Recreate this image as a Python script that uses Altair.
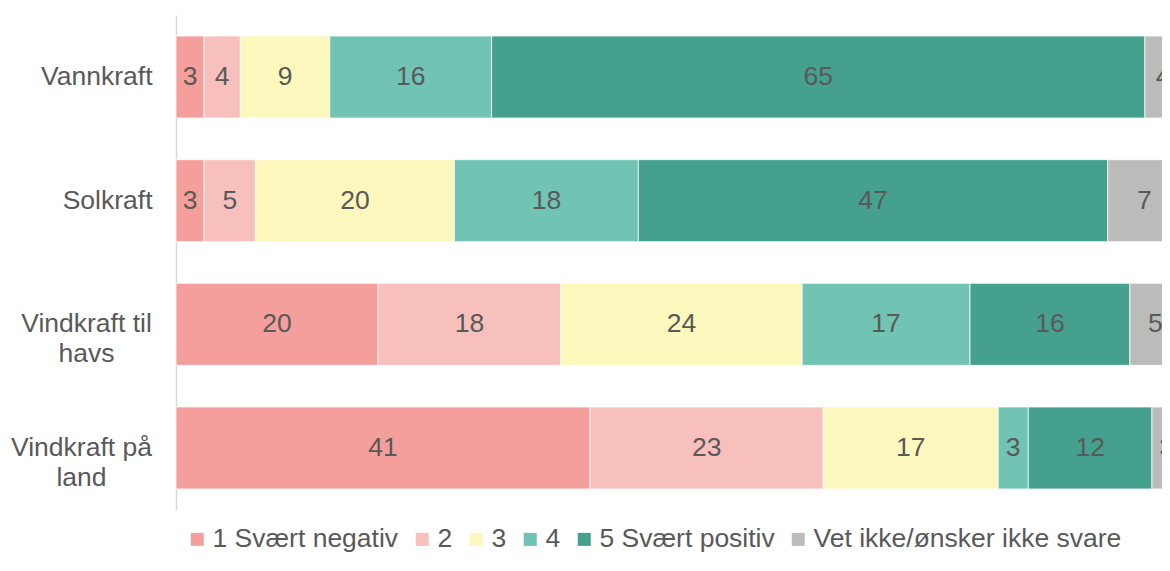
import altair as alt
import pandas as pd

categories = ["Vannkraft", "Solkraft", "Vindkraft til havs", "Vindkraft på land"]
responses = ["1 Svært negativ", "2", "3", "4", "5 Svært positiv", "Vet ikke/ønsker ikke svare"]
colors = ["#F59F9C", "#F8C0BD", "#FCF8BD", "#71C3B4", "#45A18E", "#BBBCBA"]

vannkraft = [2.8, 3.6, 8.9, 16.1, 65.0, 3.6]
solkraft = [2.8, 5.1, 19.8, 18.3, 46.7, 7.3]
vind_havs = [20.1, 18.2, 24.0, 16.7, 15.9, 5.1]
vind_land = [41.2, 23.2, 17.4, 3.0, 12.3, 2.9]

rows = []
for cat, vals in zip(categories, [vannkraft, solkraft, vind_havs, vind_land]):
    for i, (r, v) in enumerate(zip(responses, vals)):
        rows.append({"cat": cat, "resp": r, "order": i, "value": v})
df = pd.DataFrame(rows)

FONT = "Liberation Sans"
TXT = "#595959"
FS = 26.5

xscale = alt.Scale(domain=[0, 98.1], nice=False, zero=True)
yenc = alt.Y(
    "cat:N",
    sort=categories,
    scale=alt.Scale(paddingInner=0.337, paddingOuter=0.17),
    axis=alt.Axis(
        title=None,
        ticks=False,
        domain=True,
        domainColor="#D9D9D9",
        domainWidth=1.5,
        labelFont=FONT,
        labelFontSize=FS,
        labelColor=TXT,
        labelLineHeight=30,
        labelBaseline="middle",
        labelLimit=400,
        labelExpr="length(datum.label) > 12 ? [slice(datum.label, 0, lastindexof(datum.label, ' ')), slice(datum.label, lastindexof(datum.label, ' ') + 1)] : datum.label",
        labelAlign={"condition": {"test": "length(datum.value) > 12", "value": "center"}, "value": "right"},
        labelPadding={
            "condition": [
                {"test": "datum.value == 'Vindkraft til havs'", "value": 90},
                {"test": "datum.value == 'Vindkraft på land'", "value": 95},
            ],
            "value": 24,
        },
    ),
)

base = alt.Chart(df).transform_stack(
    stack="value", groupby=["cat"], as_=["x0", "x1"], sort=[alt.SortField("order")]
).transform_calculate(
    mid="(datum.x0 + datum.x1) / 2", label="format(datum.value, '.0f')"
)

bars = base.mark_bar(clip=True, stroke="white", strokeWidth=0.75).encode(
    x=alt.X("x0:Q", scale=xscale, axis=None),
    x2="x1:Q",
    y=yenc,
    color=alt.Color(
        "resp:N",
        scale=alt.Scale(domain=responses, range=colors),
        sort=responses,
        legend=alt.Legend(
            title=None,
            orient="none",
            legendX=8,
            legendY=511,
            direction="horizontal",
            symbolType="square",
            symbolSize=169,
            symbolStrokeWidth=0,
            labelFont=FONT,
            labelFontSize=FS,
            labelColor=TXT,
            labelOffset=2,
            columnPadding=10,
            padding=0,
            labelLimit=500,
        ),
    ),
)

labels = base.mark_text(clip=True, font=FONT, fontSize=FS, color=TXT, baseline="middle").encode(
    x=alt.X("mid:Q", scale=xscale, axis=None),
    y=alt.Y("cat:N", sort=categories),
    text="label:N",
)

chart = (
    alt.layer(bars, labels)
    .properties(
        width=986,
        height=495,
        padding={"left": 168, "top": 7, "right": 0, "bottom": 46},
        autosize=alt.AutoSizeParams(type="none"),
    )
    .configure_view(stroke=None)
)

chart.save("out.html", embed_options={"renderer": "svg", "actions": False})
